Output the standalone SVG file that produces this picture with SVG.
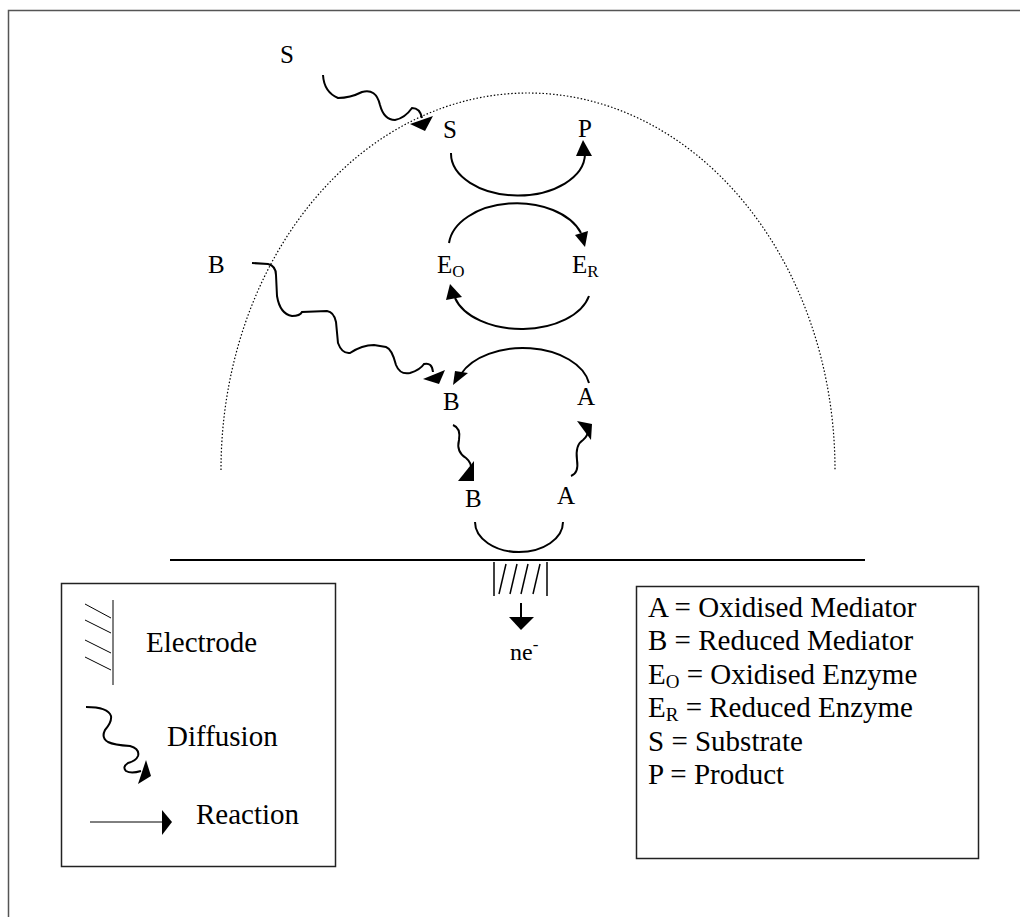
<svg xmlns="http://www.w3.org/2000/svg" width="1020" height="917" viewBox="0 0 1020 917">
<style>
text{font-family:"Liberation Serif","Times New Roman",serif;font-size:25px;fill:#000}
.lg{font-size:29px}
.sub{font-size:17px}
.lsub{font-size:19px}
.ln{fill:none;stroke:#000;stroke-width:2}
.thin{fill:none;stroke:#000;stroke-width:1}
.ah{fill:#000;stroke:none}
.box{fill:#fff;stroke:#222;stroke-width:1.5}
</style>
<rect x="8.5" y="10.5" width="1040" height="940" fill="none" stroke="#555" stroke-width="1.5"/>
<path id="boundary" d="M221,470 A307,377 0 0 1 835,470" fill="none" stroke="#000" stroke-width="1.2" stroke-dasharray="1.5,2"/>
<g id="electrode">
<line x1="170" y1="560" x2="865" y2="560" stroke="#000" stroke-width="2"/>
<line x1="494" y1="562" x2="494" y2="596" class="thin" style="stroke-width:1.5"/>
<line x1="547" y1="562" x2="547" y2="596" class="thin" style="stroke-width:1.5"/>
<line x1="499" y1="594" x2="506" y2="564" class="thin" style="stroke-width:1.5"/>
<line x1="510" y1="594" x2="517" y2="564" class="thin" style="stroke-width:1.5"/>
<line x1="521" y1="594" x2="528" y2="564" class="thin" style="stroke-width:1.5"/>
<line x1="533" y1="594" x2="540" y2="564" class="thin" style="stroke-width:1.5"/>
<line x1="521" y1="603" x2="521" y2="618" stroke="#000" stroke-width="2"/>
<polygon class="ah" points="509,617 534,617 521,630"/>
<text x="510" y="660" style="font-size:24px">ne<tspan class="sub" dy="-10">-</tspan></text>
</g>
<g id="labels">
<text x="280" y="63">S</text>
<text x="443" y="138">S</text>
<text x="578" y="137">P</text>
<text x="437" y="273">E<tspan class="sub" dy="4">O</tspan></text>
<text x="572" y="273">E<tspan class="sub" dy="4">R</tspan></text>
<text x="208" y="273">B</text>
<text x="443" y="410">B</text>
<text x="577" y="405">A</text>
<text x="465" y="507">B</text>
<text x="557" y="504">A</text>
</g>
<g id="connectors">
<path class="ln" d="M451,153 A67,42 0 0 0 585,154"/>
<polygon class="ah" points="576,156 592,156 583,140"/>
<path class="ln" d="M449,243 A68,44 0 0 1 581,233"/>
<polygon class="ah" points="575,235 588,231 585,247"/>
<path class="ln" d="M589,296 A69,42 0 0 1 455,298"/>
<polygon class="ah" points="450,284 446,300 462,297"/>
<path class="ln" d="M589,383 A67,42 0 0 0 461,374"/>
<polygon class="ah" points="453,385 455,371 468,373"/>
<path class="ln" d="M475,522 A44,30 0 0 0 563,522"/>
<path class="ln" d="M323,75 Q324,92 338,98 Q350,98 362,92 Q376,88 380,105 Q384,120 395,120 Q405,118 412,108 Q420,108 422,118"/>
<polygon class="ah" points="410,124 433,116 425,131"/>
<path class="ln" d="M252,263 L268,264 Q276,266 276,275 L277,296 Q280,314 292,316 Q300,316 302,312 L327,311 Q334,312 336,322 L338,343 Q342,354 350,353 Q362,345 374,345 L386,347 Q392,349 396,365 Q400,375 410,373 Q420,370 424,364 Q432,362 433,372"/>
<polygon class="ah" points="423,379 445,370 439,384"/>
<path class="ln" d="M453,425 Q461,428 459,440 Q456,452 466,458 Q472,463 471,470"/>
<polygon class="ah" points="458,481 474,461 474,481"/>
<path class="ln" d="M571,476 Q579,473 577,460 Q575,445 583,440 Q588,436 588,430"/>
<polygon class="ah" points="577,421 592,424 591,440"/>
</g>
<g id="legend-symbols">
<rect class="box" x="61.5" y="583.5" width="274" height="283"/>
<line x1="113" y1="600" x2="113" y2="685" class="thin"/>
<line x1="85" y1="604" x2="111" y2="618" class="thin"/>
<line x1="85" y1="620" x2="111" y2="633" class="thin"/>
<line x1="85" y1="640" x2="111" y2="653" class="thin"/>
<line x1="85" y1="657" x2="111" y2="670" class="thin"/>
<text class="lg" x="146" y="652">Electrode</text>
<path class="ln" d="M86,707 Q108,707 111,716 Q112,722 105,730 Q101,738 108,742 Q114,745 130,746 Q140,749 138,756 Q136,761 128,763 Q122,767 126,771 Q131,774 141,771"/>
<polygon class="ah" points="146,760 151,776 138,784"/>
<text class="lg" x="167" y="746">Diffusion</text>
<line x1="90" y1="822" x2="164" y2="822" class="thin"/>
<polygon class="ah" points="162,810 172,822 162,835"/>
<text class="lg" x="196" y="824">Reaction</text>
</g>
<g id="legend-key">
<rect class="box" x="636.5" y="586.5" width="342" height="272"/>
<text class="lg" x="648" y="617">A = Oxidised Mediator</text>
<text class="lg" x="648" y="650">B = Reduced Mediator</text>
<text class="lg" x="648" y="684">E<tspan class="lsub" dy="4">O</tspan><tspan dy="-4"> = Oxidised Enzyme</tspan></text>
<text class="lg" x="648" y="717">E<tspan class="lsub" dy="4">R</tspan><tspan dy="-4"> = Reduced Enzyme</tspan></text>
<text class="lg" x="648" y="751">S = Substrate</text>
<text class="lg" x="648" y="784">P = Product</text>
</g>
</svg>
